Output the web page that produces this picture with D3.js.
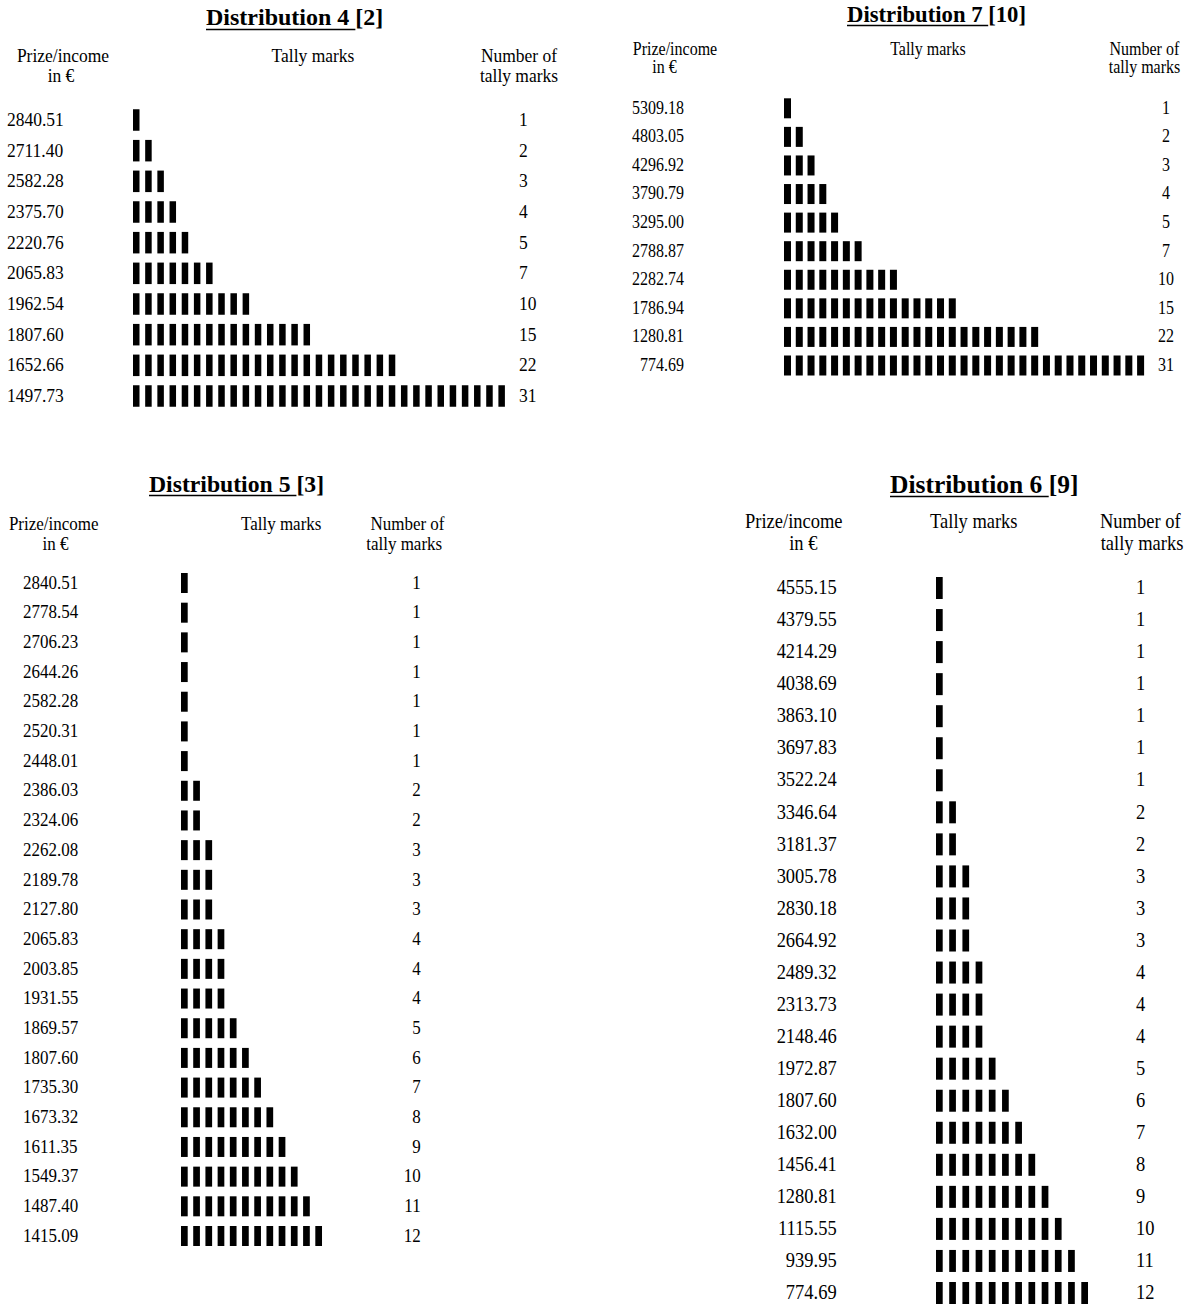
<!DOCTYPE html>
<html>
<head>
<meta charset="utf-8">
<script src="https://cdn.jsdelivr.net/npm/d3@7"></script>
<style>
    html, body { margin: 0; padding: 0; background: #fff; }
    svg { display: block; }
    text { font-family: "Liberation Serif", "Times New Roman", serif; fill: #000; }
</style>
</head>
<body>
<div id="visualization"></div>
<script>
// distribution 4 [2]
const dist4Prizes = ["2840.51", "2711.40", "2582.28", "2375.70", "2220.76", "2065.83", "1962.54", "1807.60", "1652.66", "1497.73"];
const dist4Counts = [1, 2, 3, 4, 5, 7, 10, 15, 22, 31];

// distribution 7 [10]
const dist7Prizes = ["5309.18", "4803.05", "4296.92", "3790.79", "3295.00", "2788.87", "2282.74", "1786.94", "1280.81", "774.69"];
const dist7Counts = [1, 2, 3, 4, 5, 7, 10, 15, 22, 31];

// distribution 5 [3]
const dist5Prizes = ["2840.51", "2778.54", "2706.23", "2644.26", "2582.28", "2520.31", "2448.01", "2386.03",
    "2324.06", "2262.08", "2189.78", "2127.80", "2065.83", "2003.85", "1931.55", "1869.57", "1807.60",
    "1735.30", "1673.32", "1611.35", "1549.37", "1487.40", "1415.09"];
const dist5Counts = [1, 1, 1, 1, 1, 1, 1, 2, 2, 3, 3, 3, 4, 4, 4, 5, 6, 7, 8, 9, 10, 11, 12];

// distribution 6 [9]
const dist6Prizes = ["4555.15", "4379.55", "4214.29", "4038.69", "3863.10", "3697.83", "3522.24", "3346.64",
    "3181.37", "3005.78", "2830.18", "2664.92", "2489.32", "2313.73", "2148.46", "1972.87", "1807.60",
    "1632.00", "1456.41", "1280.81", "1115.55", "939.95", "774.69"];
const dist6Counts = [1, 1, 1, 1, 1, 1, 1, 2, 2, 3, 3, 3, 4, 4, 4, 5, 6, 7, 8, 9, 10, 11, 12];

// titles and column headers
const titles = ["Distribution 4", "Distribution 7", "Distribution 5", "Distribution 6"];
const titleRefs = ["[2]", "[10]", "[3]", "[9]"];
const prizeHeader = ["Prize/income", "in \u20AC"];
const tallyHeader = "Tally marks";
const countHeader = ["Number of", "tally marks"];

// the glyphs in the source are a little taller than they are wide
const stretchY = 1.12;

// placement of each table on the page
const layouts = [
    { prizes: dist4Prizes, counts: dist4Counts, title: titles[0], ref: titleRefs[0],
      titleX: 206, titleY: 25, titleSize: 24, underlineY: 29.5,
      fontSize: 17.5, headY: [61.7, 81.7], prizeHeadX: [63, 61], tallyHeadX: 313, countHeadX: [519, 519],
      labelX: 7, labelAnchor: "start", rowFirst: 120, rowLast: 396,
      markX: 133, pitch: 12.18, markW: 6.5, markH: 21.5, countX: 519, countAnchor: "start" },
    { prizes: dist7Prizes, counts: dist7Counts, title: titles[1], ref: titleRefs[1],
      titleX: 847, titleY: 21.7, titleSize: 22.7, underlineY: 25.5,
      fontSize: 16, headY: [55, 73.3], prizeHeadX: [675, 664.5], tallyHeadX: 928, countHeadX: [1144.4, 1144.5],
      labelX: 684, labelAnchor: "end", rowFirst: 108.3, rowLast: 365.5,
      markX: 784, pitch: 11.77, markW: 7, markH: 20, countX: 1166, countAnchor: "middle" },
    { prizes: dist5Prizes, counts: dist5Counts, title: titles[2], ref: titleRefs[2],
      titleX: 149, titleY: 491.7, titleSize: 23.7, underlineY: 495.5,
      fontSize: 17, headY: [530, 550], prizeHeadX: [53.7, 55.5], tallyHeadX: 281.2, countHeadX: [407.5, 404.2],
      labelX: 23, labelAnchor: "start", rowFirst: 583, rowLast: 1236,
      markX: 181, pitch: 12.21, markW: 6.7, markH: 20, countX: 420.7, countAnchor: "end" },
    { prizes: dist6Prizes, counts: dist6Counts, title: titles[3], ref: titleRefs[3],
      titleX: 890, titleY: 492.7, titleSize: 25.5, underlineY: 496.5,
      fontSize: 18.5, headY: [528.3, 550], prizeHeadX: [793.8, 803.3], tallyHeadX: 973.8, countHeadX: [1140.3, 1142],
      labelX: 836.7, labelAnchor: "end", rowFirst: 588, rowLast: 1293,
      markX: 936, pitch: 13.21, markW: 6.7, markH: 22, countX: 1136, countAnchor: "start" }
];

const width = 1194;
const height = 1306;

const svg = d3.select("#visualization")
    .append("svg")
        .attr("width", width)
        .attr("height", height);

//text helper: places a slightly stretched text at x/y
function addText(parent, str, x, y, size, anchor) {
    return parent.append("text")
        .attr("transform", `translate(${x},${y}) scale(1,${stretchY})`)
        .attr("text-anchor", anchor)
        .style("font-size", size + "px")
        .text(str);
}

layouts.forEach(lay => {
    const g = svg.append("g");
    const n = lay.prizes.length;
    const maxCount = d3.max(lay.counts);

    //row and tally scales
    const y = d3.scalePoint()
        .domain(d3.range(n))
        .range([lay.rowFirst, lay.rowLast]);
    const x = d3.scaleLinear()
        .domain([0, maxCount])
        .range([lay.markX, lay.markX + maxCount * lay.pitch]);

    //title, underlined part + reference in brackets
    const title = g.append("text")
        .attr("x", lay.titleX)
        .attr("y", lay.titleY)
        .style("font-size", lay.titleSize + "px")
        .style("font-weight", "bold");
    const main = title.append("tspan").text(lay.title + "\u00A0");
    title.append("tspan").text(lay.ref);
    const underlineLen = main.node().getComputedTextLength();
    g.append("line")
        .attr("x1", lay.titleX)
        .attr("x2", lay.titleX + underlineLen)
        .attr("y1", lay.underlineY)
        .attr("y2", lay.underlineY)
        .attr("stroke", "#000")
        .attr("stroke-width", 1.6);

    //column headers
    prizeHeader.forEach((s, i) => addText(g, s, lay.prizeHeadX[i], lay.headY[i], lay.fontSize, "middle"));
    addText(g, tallyHeader, lay.tallyHeadX, lay.headY[0], lay.fontSize, "middle");
    countHeader.forEach((s, i) => addText(g, s, lay.countHeadX[i], lay.headY[i], lay.fontSize, "middle"));

    const baseShift = 0.3 * lay.fontSize * stretchY;

    //prize labels
    lay.prizes.forEach((p, i) => addText(g, p, lay.labelX, y(i) + baseShift, lay.fontSize, lay.labelAnchor));

    //tally marks
    const marks = lay.counts.flatMap((c, i) => d3.range(c).map(k => ({ row: i, k: k })));
    g.selectAll("rect.mark")
        .data(marks)
        .join("rect")
            .attr("class", "mark")
            .attr("x", d => x(d.k))
            .attr("y", d => y(d.row) - lay.markH / 2)
            .attr("width", lay.markW)
            .attr("height", lay.markH)
            .attr("fill", "#000");

    //number of tally marks
    lay.counts.forEach((c, i) => addText(g, String(c), lay.countX, y(i) + baseShift, lay.fontSize, lay.countAnchor));
});
</script>
</body>
</html>
